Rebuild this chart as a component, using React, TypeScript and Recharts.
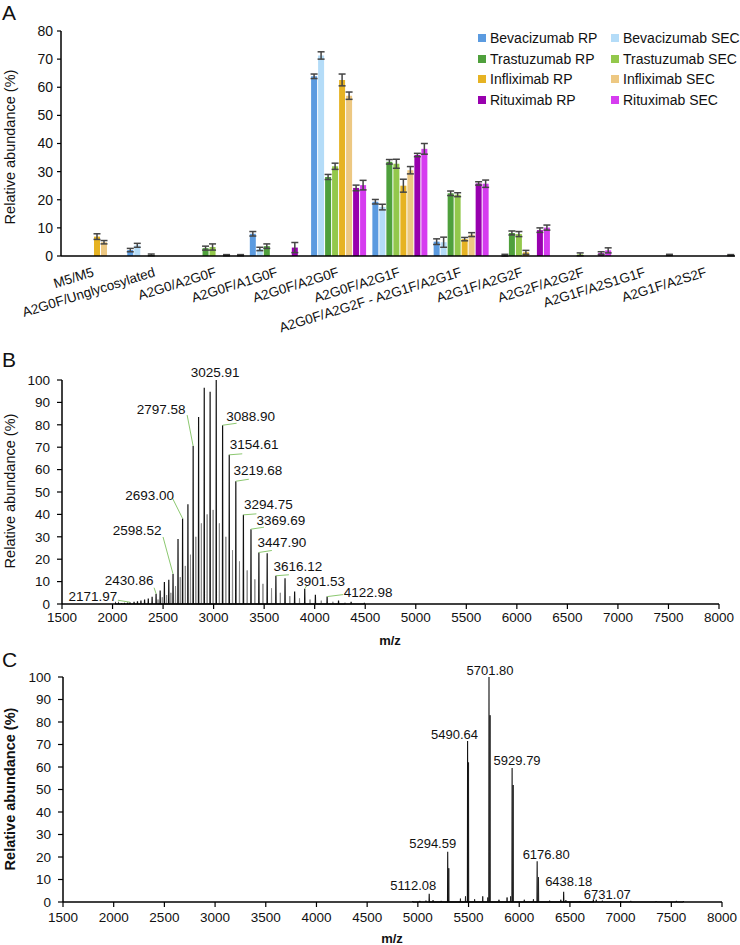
import React from 'react';
import { BarChart, Bar, ErrorBar, ComposedChart, Line, Scatter, XAxis, YAxis, Legend } from 'recharts';

// ---------- Panel A data ----------
const categories = [
  'M5/M5',
  'A2G0F/Unglycosylated',
  'A2G0/A2G0F',
  'A2G0F/A1G0F',
  'A2G0F/A2G0F',
  'A2G0F/A2G1F',
  'A2G0F/A2G2F - A2G1F/A2G1F',
  'A2G1F/A2G2F',
  'A2G2F/A2G2F',
  'A2G1F/A2S1G1F',
  'A2G1F/A2S2F',
];
const seriesNames = [
  'Bevacizumab RP', 'Bevacizumab SEC',
  'Trastuzumab RP', 'Trastuzumab SEC',
  'Infliximab RP', 'Infliximab SEC',
  'Rituximab RP', 'Rituximab SEC',
];
const seriesKeys = ['bevRP', 'bevSEC', 'trasRP', 'trasSEC', 'infRP', 'infSEC', 'ritRP', 'ritSEC'];
const seriesColors = ['#5b9be0', '#b4dcf8', '#4fa03c', '#93c84c', '#e6b323', '#edc882', '#9800ae', '#d63cf0'];

const bevRP = [0, 2.1, 0, 7.9, 63.9, 19.3, 5.1, 0, 0, 0, 0];
const bevRPErr = [0, 0.6, 0, 0.8, 0.8, 0.8, 1.0, 0, 0, 0, 0];
const bevSEC = [0, 3.8, 0, 2.5, 71.3, 17.4, 4.9, 0.3, 0, 0, 0];
const bevSECErr = [0, 0.7, 0, 0.6, 1.3, 1.0, 1.8, 0.3, 0, 0, 0];
const trasRP = [0, 0, 2.8, 3.5, 28.1, 33.5, 22.3, 8.2, 0, 0, 0];
const trasRPErr = [0, 0, 0.7, 0.8, 0.9, 0.8, 0.8, 0.7, 0, 0, 0];
const trasSEC = [0, 0.4, 3.2, 0, 31.9, 32.8, 21.8, 7.8, 0.6, 0, 0];
const trasSECErr = [0, 0.3, 1.1, 0, 1.1, 1.6, 0.7, 0.9, 0.5, 0, 0];
const infRP = [6.9, 0, 0, 0, 62.6, 25.0, 6.0, 1.3, 0, 0, 0];
const infRPErr = [1.0, 0, 0, 0, 2.1, 2.3, 0.6, 0.7, 0, 0, 0];
const infSEC = [4.9, 0, 0.3, 0, 57.0, 30.5, 7.6, 0, 0, 0, 0];
const infSECErr = [0.6, 0, 0.2, 0, 1.3, 1.3, 0.7, 0, 0, 0, 0];
const ritRP = [0, 0, 0, 3.0, 24.2, 35.9, 25.8, 9.2, 1.0, 0, 0];
const ritRPErr = [0, 0, 0, 1.8, 1.0, 0.6, 0.6, 0.8, 0.5, 0, 0];
const ritSEC = [0, 0, 0.3, 0, 25.2, 38.1, 25.7, 10.1, 2.0, 0.4, 0.3];
const ritSECErr = [0, 0, 0.2, 0, 1.7, 1.9, 1.3, 0.9, 0.9, 0.2, 0.2];

const seriesValues = [bevRP, bevSEC, trasRP, trasSEC, infRP, infSEC, ritRP, ritSEC];
const seriesErrors = [bevRPErr, bevSECErr, trasRPErr, trasSECErr, infRPErr, infSECErr, ritRPErr, ritSECErr];
const yTicksA = [0, 10, 20, 30, 40, 50, 60, 70, 80];

// ---------- Panel B data (m/z, relative abundance) ----------
const bPeakMz = [2030, 2060, 2090, 2118.4, 2149.0, 2171.97, 2213.0, 2246.8, 2281.0, 2317.0, 2353.7, 2391.6, 2430.86, 2471.0, 2513.0, 2556.5, 2598.52, 2647.8, 2693.0, 2745.8, 2797.58, 2851.4, 2907.3, 2965.4, 3025.91, 3088.9, 3154.61, 3219.68, 3294.75, 3369.69, 3447.9, 3530.0, 3616.12, 3706.5, 3801.5, 3901.53, 4006.9, 4122.98, 4235.9, 4360.4, 4492.0];
const bPeakInt = [0.3, 0.3, 0.4, 0.5, 0.6, 0.8, 1.0, 1.2, 1.5, 2.0, 2.5, 3.2, 4.6, 6.0, 9.8, 10.8, 13.4, 29.0, 38.2, 44.5, 70.5, 83.5, 96.5, 94.8, 100, 79.8, 66.6, 54.8, 39.8, 33.4, 23.0, 22.6, 12.6, 11.5, 5.6, 6.8, 4.1, 3.3, 1.5, 1.0, 0.5];
const bMinorMz = [2450, 2492, 2535, 2577, 2623, 2670, 2720, 2771, 2824, 2879, 2936, 2995, 3057, 3121, 3187, 3256, 3332, 3408, 3488, 3573, 3660, 3754, 3850, 3954, 4065, 4180, 4300];
const bMinorInt = [2.0, 3.0, 4.0, 5.0, 8, 12, 17, 22, 30, 36, 40, 42, 36, 30, 24, 19, 15, 11, 9, 7, 5, 3.5, 2.5, 2, 1.5, 1, 0.6];
const bLabels = ['2171.97', '2430.86', '2598.52', '2693.00', '2797.58', '3025.91', '3088.90', '3154.61', '3219.68', '3294.75', '3369.69', '3447.90', '3616.12', '3901.53', '4122.98'];

// ---------- Panel C data ----------
const cPeakMz = [5112.08, 5294.59, 5490.64, 5701.8, 5929.79, 6176.8, 6438.18, 6731.07];
const cPeakInt = [3.7, 22.3, 71.5, 100, 59.6, 18.1, 4.5, 1.2];
const cMinorMz = [4950, 5020, 5080, 5150, 5230, 5305, 5420, 5470, 5500, 5560, 5640, 5690, 5712, 5800, 5880, 5915, 5940, 6050, 6140, 6190, 6300, 6410, 6460, 6600, 6760, 6820, 7000, 7100, 7350, 7550, 7620];
const cMinorInt = [0.4, 0.5, 0.6, 0.8, 0.5, 15, 1.5, 2.5, 62, 1.2, 2.5, 2, 83, 1, 2, 2.5, 52, 1, 1.2, 11, 0.6, 1, 0.8, 0.4, 1, 0.6, 0.4, 0.5, 0.3, 0.5, 0.4];
const cLabels = ['5112.08', '5294.59', '5490.64', '5701.80', '5929.79', '6176.80', '6438.18', '6731.07'];

const mzTicks = [1500, 2000, 2500, 3000, 3500, 4000, 4500, 5000, 5500, 6000, 6500, 7000, 7500, 8000];
const pctTicks = [0, 10, 20, 30, 40, 50, 60, 70, 80, 90, 100];

// ---------- label layout (pixel offsets from peak top) ----------
const bLabelLayout: Record<string, number[]> = {
  '2171.97': [-37, -6, -12, -2],
  '2430.86': [-27, -13, -2, -6],
  '2598.52': [-36, -43, -10, -37],
  '2693.00': [-33, -23, -10, -20],
  '2797.58': [-32, -37, -6, -31],
  '3025.91': [-1, -8, 0, 0],
  '3088.90': [28, -9, 14, -2],
  '3154.61': [25, -10, 13, -1],
  '3219.68': [22, -11, 13, -2],
  '3294.75': [25, -10, 13, -1],
  '3369.69': [30, -9, 13, -2],
  '3447.90': [23, -10, 13, -2],
  '3616.12': [22, -9, 13, -1],
  '3901.53': [16, -7, 2, -3],
  '4122.98': [41, -4, 16, -2],
};
const cLabelLayout: Record<string, number[]> = {
  '5112.08': [-16, -8],
  '5294.59': [-15, -8],
  '5490.64': [-13, -7],
  '5701.80': [1, -7],
  '5929.79': [5, -7],
  '6176.80': [9, -7],
  '6438.18': [5, -10],
  '6731.07': [14, -5],
};

// ---------- derived tables ----------
const dataA = categories.map((cat, i) => {
  const row: any = { cat };
  seriesKeys.forEach((k, j) => {
    row[k] = seriesValues[j][i];
    row[k + 'Err'] = seriesErrors[j][i];
  });
  return row;
});

const sticks = (mz: number[], h: number[], w: number) => {
  const pts: { mz: number; v: number }[] = [];
  mz.forEach((m, i) => {
    pts.push({ mz: m - w, v: 0 });
    pts.push({ mz: m, v: h[i] });
    pts.push({ mz: m + w, v: 0 });
  });
  return pts;
};
const bMainLine = sticks(bPeakMz, bPeakInt, 2);
const bMinorLine = sticks(bMinorMz, bMinorInt, 2);
const cMainLine = sticks(cPeakMz, cPeakInt, 2);
const cMinorLine = sticks(cMinorMz, cMinorInt, 2);

const bLabelData = bLabels.map((lab) => {
  const i = bPeakMz.indexOf(parseFloat(lab));
  return { mz: bPeakMz[i], v: bPeakInt[i], label: lab };
});
const cLabelData = cLabels.map((lab) => {
  const i = cPeakMz.indexOf(parseFloat(lab));
  return { mz: cPeakMz[i], v: cPeakInt[i], label: lab };
});

const FONT = '"Liberation Sans", Arial, Helvetica, sans-serif';
const TXT = '#111';

const CategoryTick = (props: any) => {
  const { x, y, payload } = props;
  const ax = x + 3;
  const ay = y + 20;
  return (
    <text x={ax} y={ay} textAnchor="end" fontSize={13.5} fill={TXT} transform={`rotate(-17.3, ${ax}, ${ay})`}>
      {payload.value}
    </text>
  );
};

const LegendA = () => (
  <div style={{ position: 'relative', width: 262, height: 84, fontFamily: FONT, fontSize: 14, color: TXT }}>
    {seriesNames.map((n, i) => {
      const row = Math.floor(i / 2);
      const col = i % 2;
      return (
        <div
          key={n}
          style={{ position: 'absolute', left: col * 133, top: row * 20.6, height: 20.6, display: 'flex', alignItems: 'center', whiteSpace: 'nowrap' }}
        >
          <span style={{ display: 'inline-block', width: 8, height: 8, background: seriesColors[i], marginRight: 4 }} />
          <span>{n}</span>
        </div>
      );
    })}
  </div>
);

const makeBLabelShape = (props: any) => {
  const { cx, cy, payload } = props;
  const L = bLabelLayout[payload.label];
  return (
    <g>
      {(L[2] !== 0 || L[3] !== 0) && (
        <line x1={cx} y1={cy} x2={cx + L[2]} y2={cy + L[3]} stroke="#8cc870" strokeWidth={1} />
      )}
      <text x={cx + L[0]} y={cy + L[1]} textAnchor="middle" dominantBaseline="central" fontSize={13.5} fill={TXT}>
        {payload.label}
      </text>
    </g>
  );
};

const makeCLabelShape = (props: any) => {
  const { cx, cy, payload } = props;
  const L = cLabelLayout[payload.label];
  return (
    <text x={cx + L[0]} y={cy + L[1]} textAnchor="middle" dominantBaseline="central" fontSize={13} fill={TXT}>
      {payload.label}
    </text>
  );
};

const yTitle = (cx: number, cy: number, bold: boolean) => () => (
  <text
    x={cx}
    y={cy}
    transform={`rotate(-90, ${cx}, ${cy})`}
    textAnchor="middle"
    dominantBaseline="central"
    fontSize={14.5}
    fontWeight={bold ? 'bold' : 'normal'}
    fill={TXT}
  >
    Relative abundance (%)
  </text>
);

const mzTitle = (cx: number, by: number) => () => (
  <text x={cx} y={by} textAnchor="middle" fontSize={13} fontWeight="bold" fill={TXT}>
    m/z
  </text>
);

const axisStyle = { stroke: '#000', strokeWidth: 1.5 };

export default function App() {
  return (
    <div style={{ position: 'relative', width: 740, height: 945, background: '#fff', fontFamily: FONT, overflow: 'hidden' }}>
      <style>{`body{margin:0;}`}</style>

      {/* Panel A */}
      <div style={{ position: 'absolute', left: 0, top: 0 }}>
        <BarChart
          width={740}
          height={345}
          data={dataA}
          margin={{ top: 31, right: 5, bottom: 29, left: 0 }}
          barCategoryGap={5}
          barGap={1}
        >
          <XAxis
            dataKey="cat"
            interval={0}
            tickLine={false}
            tickSize={0}
            tickMargin={0}
            height={60}
            axisLine={axisStyle}
            tick={(p: any) => <CategoryTick {...p} />}
          />
          <YAxis
            domain={[0, 80]}
            ticks={yTicksA}
            width={61}
            tickSize={4}
            tickMargin={4}
            axisLine={axisStyle}
            tickLine={{ stroke: '#000', strokeWidth: 1.2 }}
            tick={{ fontSize: 14, fill: TXT }}
            label={yTitle(10, 147, false)}
          />
          <Legend
            layout="vertical"
            align="center"
            verticalAlign="middle"
            wrapperStyle={{ left: 478, top: 28, width: 262, height: 84 }}
            content={() => <LegendA />}
          />
          {seriesKeys.map((k, j) => (
            <Bar key={k} dataKey={k} name={seriesNames[j]} fill={seriesColors[j]} isAnimationActive={false}>
              <ErrorBar dataKey={k + 'Err'} width={3.5} strokeWidth={1.5} stroke="#454545" />
            </Bar>
          ))}
        </BarChart>
      </div>

      {/* Panel B */}
      <div style={{ position: 'absolute', left: 0, top: 330 }}>
        <ComposedChart width={740} height={320} margin={{ top: 50, right: 21, bottom: 16, left: 0 }}>
          <XAxis
            type="number"
            dataKey="mz"
            domain={[1500, 8000]}
            ticks={mzTicks}
            interval={0}
            tickSize={5}
            tickMargin={3}
            height={30}
            axisLine={axisStyle}
            tickLine={{ stroke: '#000', strokeWidth: 1.2 }}
            tick={{ fontSize: 13.5, fill: TXT }}
            label={mzTitle(390, 315)}
          />
          <YAxis
            type="number"
            domain={[0, 100]}
            ticks={pctTicks}
            interval={0}
            width={62}
            tickSize={5}
            tickMargin={7}
            axisLine={axisStyle}
            tickLine={{ stroke: '#000', strokeWidth: 1.2 }}
            tick={{ fontSize: 13.5, fill: TXT }}
            label={yTitle(10, 161, false)}
          />
          <Line data={bMinorLine} dataKey="v" stroke="#8c8c8c" strokeWidth={1} dot={false} isAnimationActive={false} />
          <Line data={bMainLine} dataKey="v" stroke="#111" strokeWidth={1.2} dot={false} isAnimationActive={false} />
          <Scatter data={bLabelData} dataKey="v" shape={makeBLabelShape} isAnimationActive={false} />
        </ComposedChart>
      </div>

      {/* Panel C */}
      <div style={{ position: 'absolute', left: 0, top: 630 }}>
        <ComposedChart width={740} height={315} margin={{ top: 47, right: 18, bottom: 13, left: 0 }}>
          <XAxis
            type="number"
            dataKey="mz"
            domain={[1500, 8000]}
            ticks={mzTicks}
            interval={0}
            tickSize={5}
            tickMargin={5}
            height={30}
            axisLine={axisStyle}
            tickLine={{ stroke: '#000', strokeWidth: 1.2 }}
            tick={{ fontSize: 13.5, fill: TXT }}
            label={mzTitle(392, 313)}
          />
          <YAxis
            type="number"
            domain={[0, 100]}
            ticks={pctTicks}
            interval={0}
            width={63}
            tickSize={5}
            tickMargin={7}
            axisLine={axisStyle}
            tickLine={{ stroke: '#000', strokeWidth: 1.2 }}
            tick={{ fontSize: 13.5, fill: TXT }}
            label={yTitle(10, 159, true)}
          />
          <Line data={cMinorLine} dataKey="v" stroke="#222" strokeWidth={1} dot={false} isAnimationActive={false} />
          <Line data={cMainLine} dataKey="v" stroke="#111" strokeWidth={1.1} dot={false} isAnimationActive={false} />
          <Scatter data={cLabelData} dataKey="v" shape={makeCLabelShape} isAnimationActive={false} />
        </ComposedChart>
      </div>

      {/* Panel letters */}
      <svg width={740} height={945} style={{ position: 'absolute', left: 0, top: 0, pointerEvents: 'none' }}>
        <text x={2} y={20} fontSize={21} fill={TXT}>A</text>
        <text x={2} y={367} fontSize={21} fill={TXT}>B</text>
        <text x={2} y={667} fontSize={21} fill={TXT}>C</text>
      </svg>
    </div>
  );
}
